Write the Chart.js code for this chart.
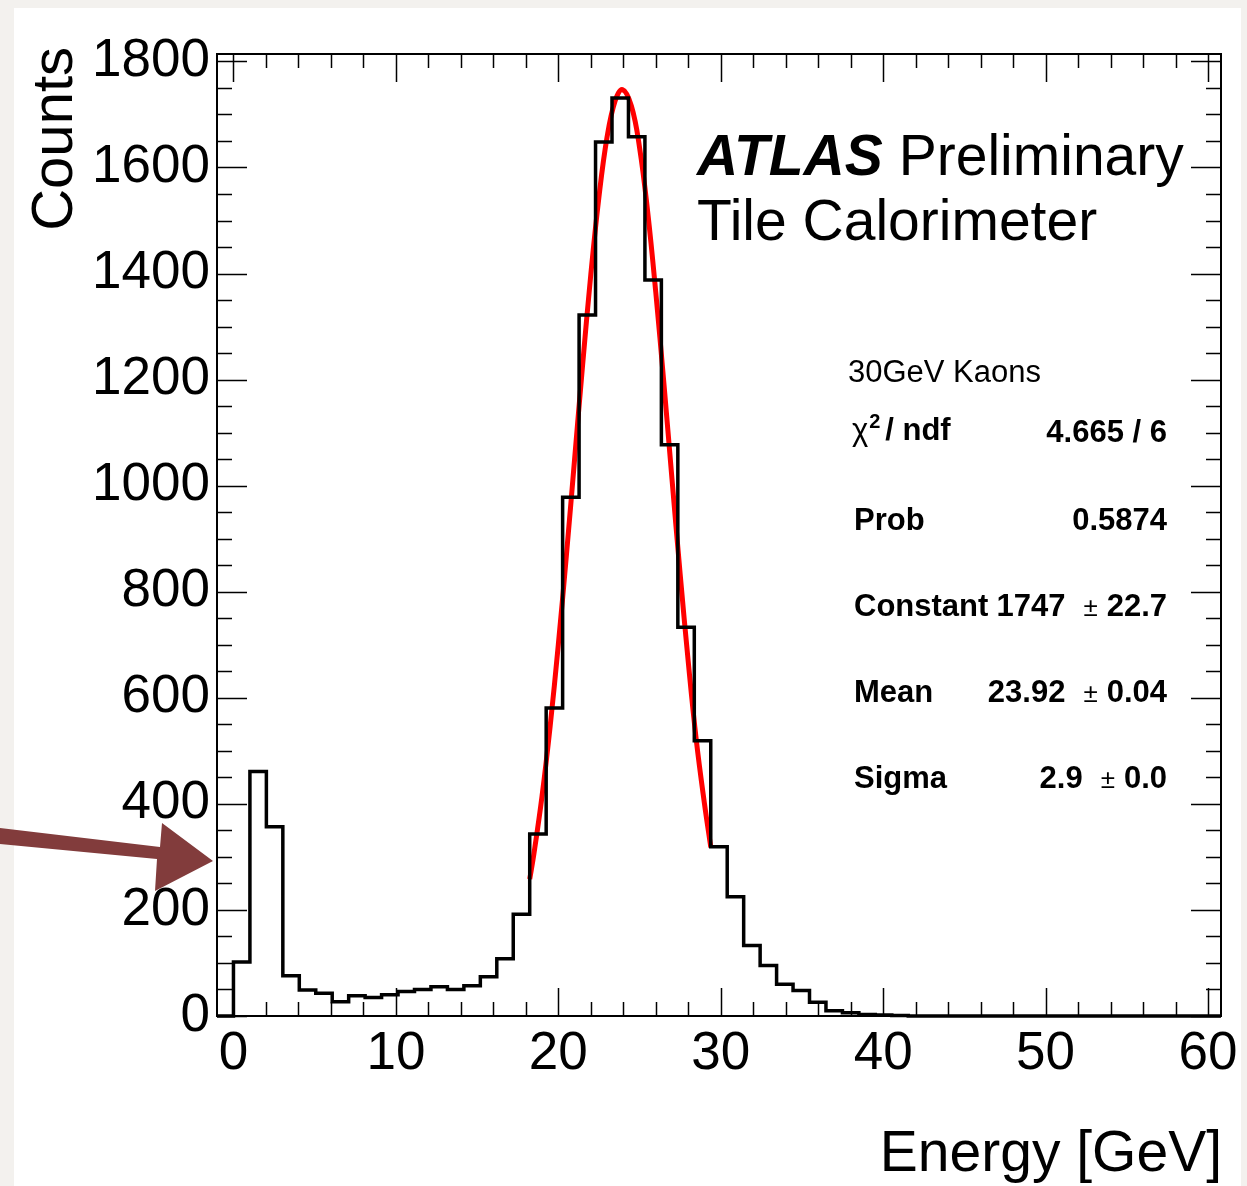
<!DOCTYPE html>
<html>
<head>
<meta charset="utf-8">
<script src="https://cdn.jsdelivr.net/npm/chart.js@4.4.1/dist/chart.umd.min.js"></script>
<style>
  body { margin: 0; background: #f3f1ee; }
  canvas { display: block; }
</style>
</head>
<body>
<canvas id="kaons" width="1247" height="1186"></canvas>
<script>
// histogram binning (61 bins, the first one just below zero is empty)
const binStart = -1.0133;
const binWidth = 1.0133;
const counts = [0,
  102, 461, 357, 76, 49, 43, 27, 38, 35, 40,
  46, 50, 55, 50, 57, 74, 108, 192, 343, 581,
  978, 1322, 1648, 1731, 1658, 1388, 1077, 733, 519, 319,
  225, 133, 95, 60, 48, 26, 10, 6, 3, 2,
  1, 0, 0, 0, 0, 0, 0, 0, 0, 0,
  0, 0, 0, 0, 0, 0, 0, 0, 0, 0];

// red gaussian fit
const fitX = [18.24, 18.5, 19, 19.5, 20, 20.5, 21, 21.5, 22, 22.5, 23, 23.5, 23.95,
  24.5, 25, 25.5, 26, 26.5, 27, 27.5, 28, 28.5, 29, 29.39];
const fitY = [258, 306, 415, 547, 700, 869, 1049, 1229, 1398, 1544, 1657, 1726, 1747,
  1716, 1638, 1517, 1365, 1193, 1012, 834, 668, 519, 400, 318];

const xTicks = [0, 10, 20, 30, 40, 50, 60];
const yTicks = [0, 200, 400, 600, 800, 1000, 1200, 1400, 1600, 1800];

const statLabels = ['Prob', 'Constant', 'Mean', 'Sigma'];
const statValues = ['0.5874', '1747', '23.92', '2.9'];
const statErrors = ['', '22.7', '0.04', '0.0'];

const FONT = "'Liberation Sans', Arial, Helvetica, sans-serif";

// histogram points: left edge of each bin, plus the closing right edge
const histPoints = counts.map((c, i) => ({ x: binStart + i * binWidth, y: c }));
histPoints.push({ x: binStart + counts.length * binWidth, y: counts[counts.length - 1] });

const fitPoints = fitX.map((x, i) => ({ x: x, y: fitY[i] }));

const rootStyle = {
  id: 'rootStyle',
  beforeDraw(chart) {
    const ctx = chart.ctx;
    ctx.save();
    ctx.fillStyle = '#f3f1ee';
    ctx.fillRect(0, 0, chart.width, chart.height);
    ctx.fillStyle = '#ffffff';
    ctx.fillRect(14, 8, 1227, chart.height - 8);
    ctx.restore();
  },
  afterDraw(chart) {
    const ctx = chart.ctx;
    const a = chart.chartArea;
    const xs = chart.scales.x, ys = chart.scales.y;
    ctx.save();

    // ticks on all four sides, pointing inwards
    ctx.strokeStyle = '#000';
    ctx.lineWidth = 1.5;
    ctx.beginPath();
    for (let v = 0; v <= 60; v += 2) {
      const px = Math.round(xs.getPixelForValue(v)) + 0.5;
      const len = v % 10 === 0 ? 28 : 14;
      ctx.moveTo(px, a.bottom); ctx.lineTo(px, a.bottom - len);
      ctx.moveTo(px, a.top); ctx.lineTo(px, a.top + len);
    }
    for (let v = 0; v <= 1800; v += 50) {
      const py = Math.round(ys.getPixelForValue(v)) + 0.5;
      const len = v % 200 === 0 ? 30 : 15;
      ctx.moveTo(a.left, py); ctx.lineTo(a.left + len, py);
      ctx.moveTo(a.right, py); ctx.lineTo(a.right - len, py);
    }
    ctx.stroke();

    // frame
    ctx.lineWidth = 2;
    ctx.strokeRect(a.left, a.top, a.right - a.left, a.bottom - a.top);

    // axis titles
    ctx.fillStyle = '#000';
    ctx.font = '57px ' + FONT;
    ctx.textAlign = 'right';
    ctx.textBaseline = 'alphabetic';
    ctx.fillText('Energy [GeV]', 1222, 1171);
    ctx.save();
    ctx.font = '58px ' + FONT;
    ctx.translate(72, 47);
    ctx.rotate(-Math.PI / 2);
    ctx.fillText('Counts', 0, 0);
    ctx.restore();

    // ATLAS label
    ctx.textAlign = 'left';
    ctx.font = 'italic bold 57px ' + FONT;
    ctx.fillText('ATLAS', 697, 175);
    const w = ctx.measureText('ATLAS').width;
    ctx.font = '57px ' + FONT;
    ctx.fillText('Preliminary', 697 + w + 16, 175);
    ctx.fillText('Tile Calorimeter', 697, 240);

    // fit statistics
    ctx.font = '31px ' + FONT;
    ctx.fillText('30GeV Kaons', 848, 382);
    ctx.fillText('\u03c7', 852, 440);
    const cw = ctx.measureText('\u03c7').width;
    ctx.font = 'bold 20px ' + FONT;
    ctx.fillText('2', 852 + cw + 1, 428);
    ctx.font = 'bold 31px ' + FONT;
    ctx.fillText('/ ndf', 852 + cw + 17, 440);
    ctx.textAlign = 'right';
    ctx.fillText('4.665 / 6', 1167, 442);

    const rowY = [530, 616, 702, 788];
    statLabels.forEach((lab, i) => {
      ctx.textAlign = 'left';
      ctx.font = 'bold 31px ' + FONT;
      ctx.fillText(lab, 854, rowY[i]);
      ctx.textAlign = 'right';
      if (!statErrors[i]) {
        ctx.fillText(statValues[i], 1167, rowY[i]);
        return;
      }
      ctx.fillText(statErrors[i], 1167, rowY[i]);
      const ew = ctx.measureText(statErrors[i]).width;
      ctx.font = '26px ' + FONT;
      const pmRight = 1167 - ew - 9;
      ctx.fillText('\u00b1', pmRight, rowY[i]);
      const pw = ctx.measureText('\u00b1').width;
      ctx.font = 'bold 31px ' + FONT;
      ctx.fillText(statValues[i], pmRight - pw - 18, rowY[i]);
    });

    // hand drawn arrow on the left
    ctx.fillStyle = '#823c3c';
    ctx.beginPath();
    ctx.moveTo(0, 828);
    ctx.lineTo(160, 847);
    ctx.lineTo(162, 823);
    ctx.lineTo(213, 861);
    ctx.lineTo(155, 891);
    ctx.lineTo(157, 859);
    ctx.lineTo(0, 844);
    ctx.closePath();
    ctx.fill();

    ctx.restore();
  }
};

const ctx = document.getElementById('kaons').getContext('2d');

new Chart(ctx, {
  type: 'line',
  data: {
    datasets: [{
      label: 'Counts',
      data: histPoints,
      stepped: true,
      borderColor: '#000000',
      borderWidth: 3.5,
      pointRadius: 0,
      fill: false,
      clip: 4
    },
    {
      label: 'Fit',
      data: fitPoints,
      borderColor: '#ff0000',
      borderWidth: 5,
      pointRadius: 0,
      tension: 0.4,
      fill: false
    }]
  },
  options: {
    responsive: false,
    animation: false,
    layout: { padding: { top: 54, right: 26, left: 0, bottom: 0 } },
    plugins: {
      legend: { display: false },
      tooltip: { enabled: false }
    },
    scales: {
      x: {
        type: 'linear',
        min: binStart,
        max: 60.8,
        grid: { display: false, drawTicks: false },
        border: { display: false },
        afterBuildTicks: s => { s.ticks = xTicks.map(v => ({ value: v })); },
        afterFit: s => { s.height = 170; },
        ticks: {
          autoSkip: false,
          maxRotation: 0,
          padding: 7,
          color: '#000',
          callback: v => String(v),
          font: { family: FONT, size: 53 }
        }
      },
      y: {
        min: 0,
        max: 1814,
        grid: { display: false, drawTicks: false },
        border: { display: false },
        afterBuildTicks: s => { s.ticks = yTicks.map(v => ({ value: v })); },
        afterFit: s => { s.width = 217; },
        ticks: {
          padding: 7,
          color: '#000',
          callback: v => String(v),
          font: { family: FONT, size: 53 }
        }
      }
    }
  },
  plugins: [rootStyle]
});
</script>
</body>
</html>
